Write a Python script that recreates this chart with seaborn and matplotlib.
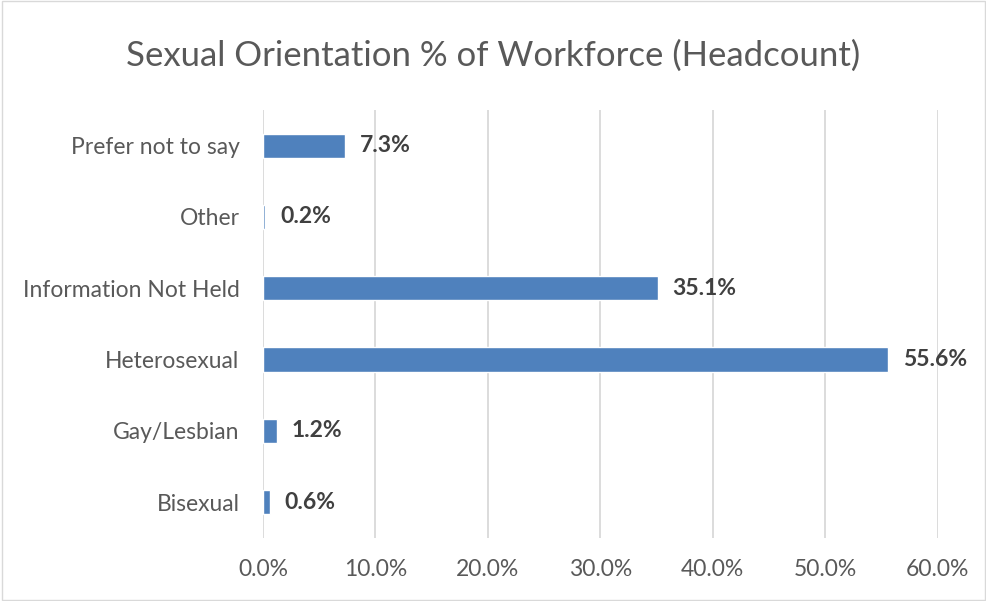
import matplotlib
matplotlib.use('Agg')
import matplotlib.pyplot as plt
import seaborn as sns
import pandas as pd
from matplotlib.ticker import FuncFormatter

# data, top to bottom
categories = ['Prefer not to say', 'Other', 'Information Not Held',
              'Heterosexual', 'Gay/Lesbian', 'Bisexual']
percentages = [7.3, 0.2, 35.1, 55.6, 1.2, 0.6]
x_ticks = [0, 10, 20, 30, 40, 50, 60]

df = pd.DataFrame({'category': categories, 'pct': percentages})

sns.set_style('white')
plt.rcParams['font.family'] = ['Lato', 'DejaVu Sans']

fig = plt.figure(figsize=(9.87, 6.01), dpi=100)
ax = fig.add_axes([0.2665, 0.105, 0.6835, 0.712])

sns.barplot(data=df, y='category', x='pct', color='#4F81BD', width=0.34,
            saturation=1, orient='h', ax=ax, zorder=3)

ax.set_xlim(0, 60)
ax.set_xticks(x_ticks)
ax.xaxis.set_major_formatter(FuncFormatter(lambda v, p: f'{v:.1f}%'))
ax.grid(axis='x', color='#D9D9D9', linewidth=1.3, zorder=0)
ax.grid(axis='y', visible=False)
for s in ax.spines.values():
    s.set_visible(False)
ax.tick_params(axis='both', length=0, labelsize=16.5, colors='#595959')
ax.tick_params(axis='x', pad=15)
ax.tick_params(axis='y', pad=17)
ax.set_xlabel('')
ax.set_ylabel('')

for i, v in enumerate(percentages):
    ax.text(v + 1.3, i, f'{v:.1f}%', va='center', ha='left',
            fontsize=16.5, fontweight='bold', color='#404040')

fig.text(0.5, 0.908, 'Sexual Orientation % of Workforce (Headcount)',
         ha='center', va='center', fontsize=25, color='#595959')

fig.patches.append(plt.Rectangle((0.002, 0.002), 0.996, 0.996, transform=fig.transFigure,
                                 fill=False, edgecolor='#D9D9D9', linewidth=1))

fig.savefig('out.png', dpi=100)
